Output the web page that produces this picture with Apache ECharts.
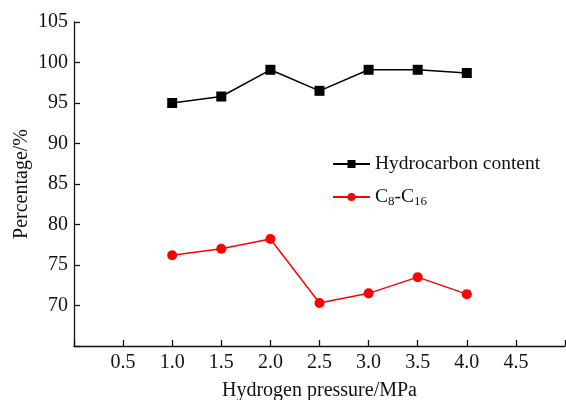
<!DOCTYPE html>
<html><head><meta charset="utf-8">
<script src="https://cdn.jsdelivr.net/npm/echarts@6/dist/echarts.min.js"></script>
<style>html,body{margin:0;padding:0;background:#fff}#c{width:566px;height:400px}</style>
</head><body><div id="c"></div>
<script>
var pressure = [1.0, 1.5, 2.0, 2.5, 3.0, 3.5, 4.0];
var hydrocarbon = [95.0, 95.8, 99.1, 96.5, 99.1, 99.1, 98.7];
var c8c16 = [76.2, 77.0, 78.2, 70.3, 71.5, 73.5, 71.4];
var seriesNames = ['Hydrocarbon content', 'C8-C16'];

var F = 'Liberation Serif, Times New Roman, serif';
function pairs(xs, ys){ return xs.map(function(x,i){ return [x, ys[i]]; }); }

var chart = echarts.init(document.getElementById('c'));
chart.setOption({
  backgroundColor: '#fff',
  animation: false,
  grid: {left: 74, right: 1, top: 22, bottom: 54, containLabel: false, outerBoundsMode: 'none'},
  legend: {
    orient: 'vertical', left: 327, top: 149, itemWidth: 37, itemHeight: 10, itemGap: 13,
    textStyle: {fontFamily: F, fontSize: 19.5, color: '#111',
      rich: {n: {fontFamily: F, fontSize: 19.5, color: '#111'}, s: {fontFamily: F, fontSize: 13, color: '#111', verticalAlign: 'bottom', padding: [9,0,0,0]}}},
    formatter: function(n){ return n === 'C8-C16' ? '{n|C}{s|8}{n|-C}{s|16}' : n; },
    data: seriesNames
  },
  xAxis: {
    type: 'value', min: 0, max: 5, interval: 0.5,
    name: 'Hydrogen pressure/MPa', nameLocation: 'middle', nameGap: 35, nameMoveOverlap: false,
    nameTextStyle: {fontFamily: F, fontSize: 20, color: '#111'},
    axisLine: {lineStyle: {color: '#111', width: 1.3}},
    axisTick: {inside: true, length: 6, lineStyle: {color: '#111', width: 1.3}},
    axisLabel: {fontFamily: F, fontSize: 20, color: '#111', margin: 7,
      formatter: function(v){ return (v <= 0 || v >= 5) ? '' : v.toFixed(1); }},
    splitLine: {show: false}
  },
  yAxis: {
    type: 'value', min: 65, max: 105, interval: 5,
    name: 'Percentage/%', nameLocation: 'middle', nameGap: 42, nameMoveOverlap: false,
    nameTextStyle: {fontFamily: F, fontSize: 20, color: '#111'},
    axisLine: {show: true, lineStyle: {color: '#111', width: 1.3}},
    axisTick: {inside: true, length: 6, lineStyle: {color: '#111', width: 1.3}},
    axisLabel: {fontFamily: F, fontSize: 20, color: '#111', margin: 6,
      formatter: function(v){ return v <= 65 ? '' : String(v); }},
    splitLine: {show: false}
  },
  series: [
    {name: seriesNames[0], type: 'line', data: pairs(pressure, hydrocarbon),
     symbol: 'rect', symbolSize: 10, itemStyle: {color: '#000'}, lineStyle: {color: '#000', width: 1.5}},
    {name: seriesNames[1], type: 'line', data: pairs(pressure, c8c16),
     symbol: 'circle', symbolSize: 10, itemStyle: {color: '#f00'}, lineStyle: {color: '#f00', width: 1.5}}
  ]
});
</script></body></html>
